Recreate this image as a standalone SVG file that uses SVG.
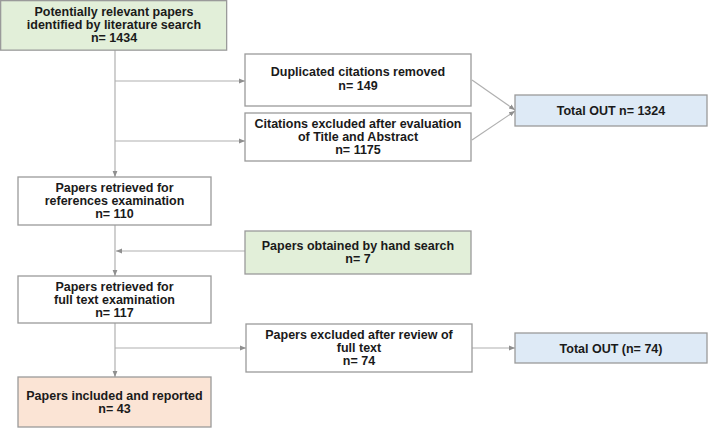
<svg xmlns="http://www.w3.org/2000/svg" width="708" height="428" viewBox="0 0 708 428">
<style>
.box{stroke:#9a9a9a;stroke-width:1.3}
.w{fill:#ffffff}.g{fill:#e2efd9}.b{fill:#deeaf6}.o{fill:#fbe4d5}
text{font-family:"Liberation Sans",Arial,sans-serif;font-weight:bold;font-size:12.5px;fill:#1a1a1a;text-anchor:middle}
.c{stroke:#b0b0b0;stroke-width:1.2;fill:none}
</style>
<defs>
<marker id="ah" viewBox="0 0 10 10" refX="10" refY="5" markerWidth="6" markerHeight="6" markerUnits="userSpaceOnUse" orient="auto">
<path d="M0,1 L10,5 L0,9 Z" fill="#8f8f8f"/>
</marker>
</defs>
<g id="connectors">
<line class="c" x1="115" y1="50" x2="115" y2="177" marker-end="url(#ah)"/>
<line class="c" x1="115" y1="81" x2="245" y2="81" marker-end="url(#ah)"/>
<line class="c" x1="115" y1="141" x2="245" y2="141" marker-end="url(#ah)"/>
<line class="c" x1="472" y1="80" x2="515" y2="110" marker-end="url(#ah)"/>
<line class="c" x1="472" y1="140" x2="515" y2="111" marker-end="url(#ah)"/>
<line class="c" x1="115" y1="225" x2="115" y2="276" marker-end="url(#ah)"/>
<line class="c" x1="245" y1="251" x2="116" y2="251" marker-end="url(#ah)"/>
<line class="c" x1="115" y1="323" x2="115" y2="377" marker-end="url(#ah)"/>
<line class="c" x1="115" y1="348" x2="246" y2="348" marker-end="url(#ah)"/>
<line class="c" x1="472" y1="348" x2="515" y2="348" marker-end="url(#ah)"/>
</g>
<g id="n1">
<rect class="box g" x="0.65" y="0.65" width="226" height="49.5"/>
<text x="114" y="16">Potentially relevant papers</text>
<text x="114" y="29">identified by literature search</text>
<text x="114" y="42">n= 1434</text>
</g>
<g id="n2">
<rect class="box w" x="245" y="54" width="226" height="52"/>
<text x="358" y="76">Duplicated citations removed</text>
<text x="358" y="90">n= 149</text>
</g>
<g id="n3">
<rect class="box w" x="245" y="113" width="226" height="48"/>
<text x="358" y="128">Citations excluded after evaluation</text>
<text x="358" y="141">of Title and Abstract</text>
<text x="358" y="154">n= 1175</text>
</g>
<g id="n4">
<rect class="box b" x="515" y="95" width="192" height="31"/>
<text x="611" y="115">Total OUT n= 1324</text>
</g>
<g id="n5">
<rect class="box w" x="18" y="177" width="193" height="48"/>
<text x="114.5" y="192">Papers retrieved for</text>
<text x="114.5" y="205">references examination</text>
<text x="114.5" y="218">n= 110</text>
</g>
<g id="n6">
<rect class="box g" x="245" y="231" width="226" height="43"/>
<text x="358" y="250">Papers obtained by hand search</text>
<text x="358" y="263">n= 7</text>
</g>
<g id="n7">
<rect class="box w" x="18" y="276" width="193" height="47"/>
<text x="114.5" y="290.5">Papers retrieved for</text>
<text x="114.5" y="303.5">full text examination</text>
<text x="114.5" y="316.5">n= 117</text>
</g>
<g id="n8">
<rect class="box w" x="246" y="324" width="226" height="48"/>
<text x="359" y="339">Papers excluded after review of</text>
<text x="359" y="352">full text</text>
<text x="359" y="365">n= 74</text>
</g>
<g id="n9">
<rect class="box b" x="515" y="333" width="192" height="30"/>
<text x="611" y="352.5">Total OUT (n= 74)</text>
</g>
<g id="n10">
<rect class="box o" x="18" y="377" width="193" height="50"/>
<text x="114.5" y="399.5">Papers included and reported</text>
<text x="114.5" y="413">n= 43</text>
</g>
</svg>
